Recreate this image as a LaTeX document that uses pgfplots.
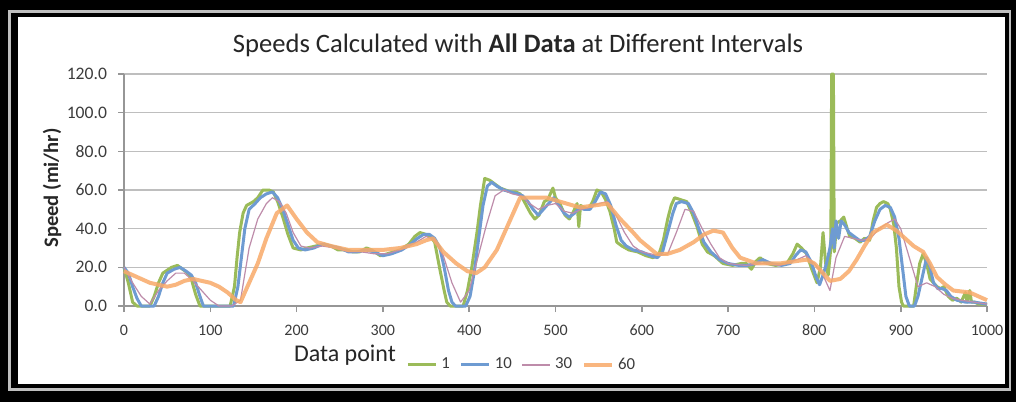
\documentclass[border=0pt]{standalone}
\usepackage{pgfplots}
\pgfplotsset{compat=1.18}
\usepackage{fontspec}
\setmainfont{Carlito}
\definecolor{cgreen}{RGB}{155,187,89}
\definecolor{cblue}{RGB}{110,155,210}
\definecolor{cpurple}{RGB}{190,140,170}
\definecolor{corange}{RGB}{248,170,105}
\definecolor{cgrid}{RGB}{190,190,190}
\definecolor{caxis}{RGB}{150,150,150}
\definecolor{ctext}{RGB}{60,60,60}
\begin{document}
\begin{tikzpicture}[x=0.5pt,y=0.5pt]
% frame
\fill[black] (0,0) rectangle (1016,402);
\fill[white!75!black] (8,11) rectangle (1011,392);
\fill[black] (11,14) rectangle (1009,389);
\fill[white] (18,18) rectangle (1005,385);
\begin{axis}[
  at={(62pt,48pt)}, anchor=south west,
  scale only axis, width=431.5pt, height=116pt,
  xmin=0, xmax=1000, ymin=0, ymax=120,
  xtick={0,100,...,1000}, ytick={0,20,...,120},
  ymajorgrids, grid style={cgrid, line width=0.8pt},
  axis x line*=bottom, axis y line*=left,
  axis line style={caxis, line width=0.8pt},
  tick style={caxis, line width=0.8pt}, tick align=outside, major tick length=3pt,
  /pgf/number format/assume math mode=true,
  /pgf/number format/1000 sep={},
  ticklabel style={text=ctext},
  yticklabel style={font=\fontsize{8.8}{10}\selectfont},
  xticklabel style={font=\fontsize{8}{10}\selectfont, yshift=-3pt},
  y tick label style={/pgf/number format/.cd, fixed, fixed zerofill, precision=1, /tikz/.cd, xshift=-2pt},
  clip=false,
  legend style={at={(0.462,-0.254)}, anchor=center, draw=none, fill=none,
    font=\fontsize{8.4}{10}\selectfont, text=ctext, inner sep=1pt,
    /tikz/every even column/.append style={column sep=3pt}},
  legend columns=4,
  legend image code/.code={\draw[#1] (0pt,0pt) -- (14pt,0pt);},
  line join=round,
]
\addplot[cgreen, line width=1.5pt] coordinates {
(0,20)(5,12)(10,2)(15,0)(30,0)(35,5)(40,12)(45,17)(55,20)(62,21)(68,19)(74,17)(78,14)(83,6)(88,0)
(123,0)(128,10)(131,25)(134,38)(138,48)(142,52)(150,54)(155,56)(161,60)(168,60)(173,59)(178,54)(184,46)(190,37)(196,30)
(205,29)(212,30)(222,31)(232,32)(240,31)(248,29)(258,29)(265,28)(273,28)(281,30)(287,29)(297,26)(305,27)(320,29)(330,32)
(337,36)(343,38)(350,37)(355,36)(360,33)(366,19)(371,8)(374,2)(378,0)(393,0)(398,8)(403,20)(409,38)(413,52)(418,66)
(424,65)(430,63)(436,61)(442,60)(448,59)(454,59)(459,58)(465,53)(471,48)(476,45)(481,47)(487,54)(491,55)(494,58)(497,61)
(500,56)(505,53)(511,47)(516,45)(521,49)(525,53)(527,41)(529,52)(533,51)(538,50)(543,54)(548,60)(553,59)(558,55)(563,49)
(568,40)(571,33)(577,31)(585,29)(595,28)(605,26)(613,25)(620,27)(625,34)(630,45)(634,52)(638,56)(645,55)(652,54)(658,48)
(664,41)(670,32)(676,28)(684,26)(694,22)(705,21)(715,22)(721,22)(727,19)(732,23)(737,25)(745,22)(755,21)(768,22)(775,27)
(780,32)(785,30)(791,27)(797,19)(803,12)(807,20)(810,38)(813,22)(816,16)(819,30)(820,120)(822,120)(823,28)(826,43)(830,44)
(834,46)(838,40)(841,36)(847,35)(853,33)(858,35)(864,34)(868,44)(872,51)(876,53)(880,54)(885,53)(888,50)(892,42)(895,30)
(898,10)(901,2)(903,0)(915,0)(918,10)(922,22)(926,27)(930,22)(934,14)(938,12)(942,10)(946,9)(950,10)(955,5)(960,3)
(965,4)(970,2)(975,7)(977,2)(980,8)(982,2)(986,2)(990,1)(1000,1)
};
\addlegendentry{1}
\addplot[cblue, line width=1.5pt] coordinates {
(0,20)(5,17)(10,10)(15,4)(20,0)(35,0)(40,5)(45,12)(50,17)(58,19)(65,20)(72,18)(78,16)(83,12)(88,5)(92,0)
(127,0)(132,10)(136,25)(140,40)(145,50)(152,53)(158,56)(165,58)(172,59)(178,56)(184,50)(190,42)(196,34)(202,30)
(210,29)(220,30)(230,32)(240,31)(250,30)(260,28)(270,28)(280,29)(290,28)(300,26)(310,27)(322,29)(332,32)(340,35)
(347,37)(354,37)(360,35)(366,30)(371,20)(376,8)(380,2)(384,0)(396,0)(401,5)(406,18)(411,35)(416,52)(421,62)(426,64)
(432,62)(440,60)(448,59)(456,58)(462,57)(468,54)(474,50)(480,47)(486,50)(492,53)(498,56)(504,52)(510,48)(516,46)
(522,48)(528,51)(533,50)(540,50)(546,54)(552,59)(558,58)(564,52)(570,42)(576,34)(582,31)(590,29)(600,28)(610,26)
(618,25)(624,28)(630,38)(636,48)(640,53)(646,54)(654,53)(660,48)(666,40)(672,33)(680,28)(690,24)(700,22)(712,21)
(722,21)(732,22)(740,24)(750,22)(762,21)(772,22)(778,26)(784,29)(790,28)(796,23)(802,15)(806,11)(810,16)(814,22)
(818,30)(821,40)(823,30)(825,44)(828,35)(831,44)(835,42)(840,38)(846,36)(852,34)(858,34)(864,36)(870,44)(876,50)
(882,52)(888,51)(893,46)(898,35)(902,20)(906,5)(910,0)(916,0)(920,5)(925,15)(930,25)(934,20)(938,12)(943,9)(948,9)
(953,8)(958,5)(965,3)(975,2)(985,2)(1000,1)
};
\addlegendentry{10}
\addplot[cpurple, line width=0.6pt] coordinates {
(0,20)(10,12)(20,5)(30,1)(40,8)(50,13)(60,17)(70,17)(80,13)(90,8)(100,3)(110,0)(125,0)(135,3)(145,30)(155,45)
(165,53)(172,56)(180,54)(188,48)(196,38)(205,31)(215,30)(230,31)(245,30)(260,28)(275,28)(290,27)(305,27)(320,29)
(335,32)(350,36)(360,34)(370,26)(380,12)(390,2)(400,8)(410,25)(420,42)(430,57)(440,60)(450,58)(460,57)(470,53)
(480,50)(490,52)(500,53)(510,49)(520,48)(530,50)(540,51)(550,53)(560,54)(570,47)(580,38)(590,31)(600,28)(610,27)
(620,26)(630,27)(640,38)(650,50)(660,49)(670,40)(680,32)(690,25)(700,22)(720,21)(740,22)(760,21)(780,24)(790,26)
(800,22)(810,16)(818,8)(825,25)(835,36)(845,35)(855,34)(865,35)(875,40)(885,43)(893,45)(900,40)(910,25)(920,10)
(930,12)(940,10)(950,6)(960,4)(970,3)(985,2)(1000,1)
};
\addlegendentry{30}
\addplot[corange, line width=2pt, opacity=0.85] coordinates {
(0,18)(10,16)(20,14)(30,12)(40,11)(50,10)(60,11)(70,13)(80,14)(90,13)(100,12)(110,10)(120,7)(130,3)(135,2)
(145,12)(155,22)(165,35)(177,48)(189,52)(200,45)(212,38)(224,33)(240,31)(260,29)(281,29)(300,29)(320,30)(339,32)
(350,34)(358,35)(370,28)(385,22)(398,18)(408,17)(418,20)(432,29)(445,42)(459,56)(475,56)(490,56)(505,54)(528,51)
(545,52)(560,53)(575,45)(590,38)(598,34)(617,27)(630,27)(644,29)(660,33)(672,37)(683,39)(694,38)(705,30)(714,25)
(733,22)(760,22)(791,24)(800,22)(810,17)(818,13)(830,14)(840,18)(849,24)(858,31)(868,38)(884,42)(895,39)(905,35)
(915,31)(926,28)(934,22)(942,15)(952,11)(961,8)(980,7)(990,5)(1000,3)
};
\addlegendentry{60}
\end{axis}
\node[font=\fontsize{13.3}{15}\selectfont, text=black!85] at (518,357) {Speeds Calculated with \textbf{All Data} at Different Intervals};
\node[font=\bfseries\fontsize{10.3}{12}\selectfont, text=black!85, rotate=90] at (52,214) {Speed (mi/hr)};
\node[font=\fontsize{12}{14}\selectfont, text=black!85] at (345,47) {Data point};
\end{tikzpicture}
\end{document}
